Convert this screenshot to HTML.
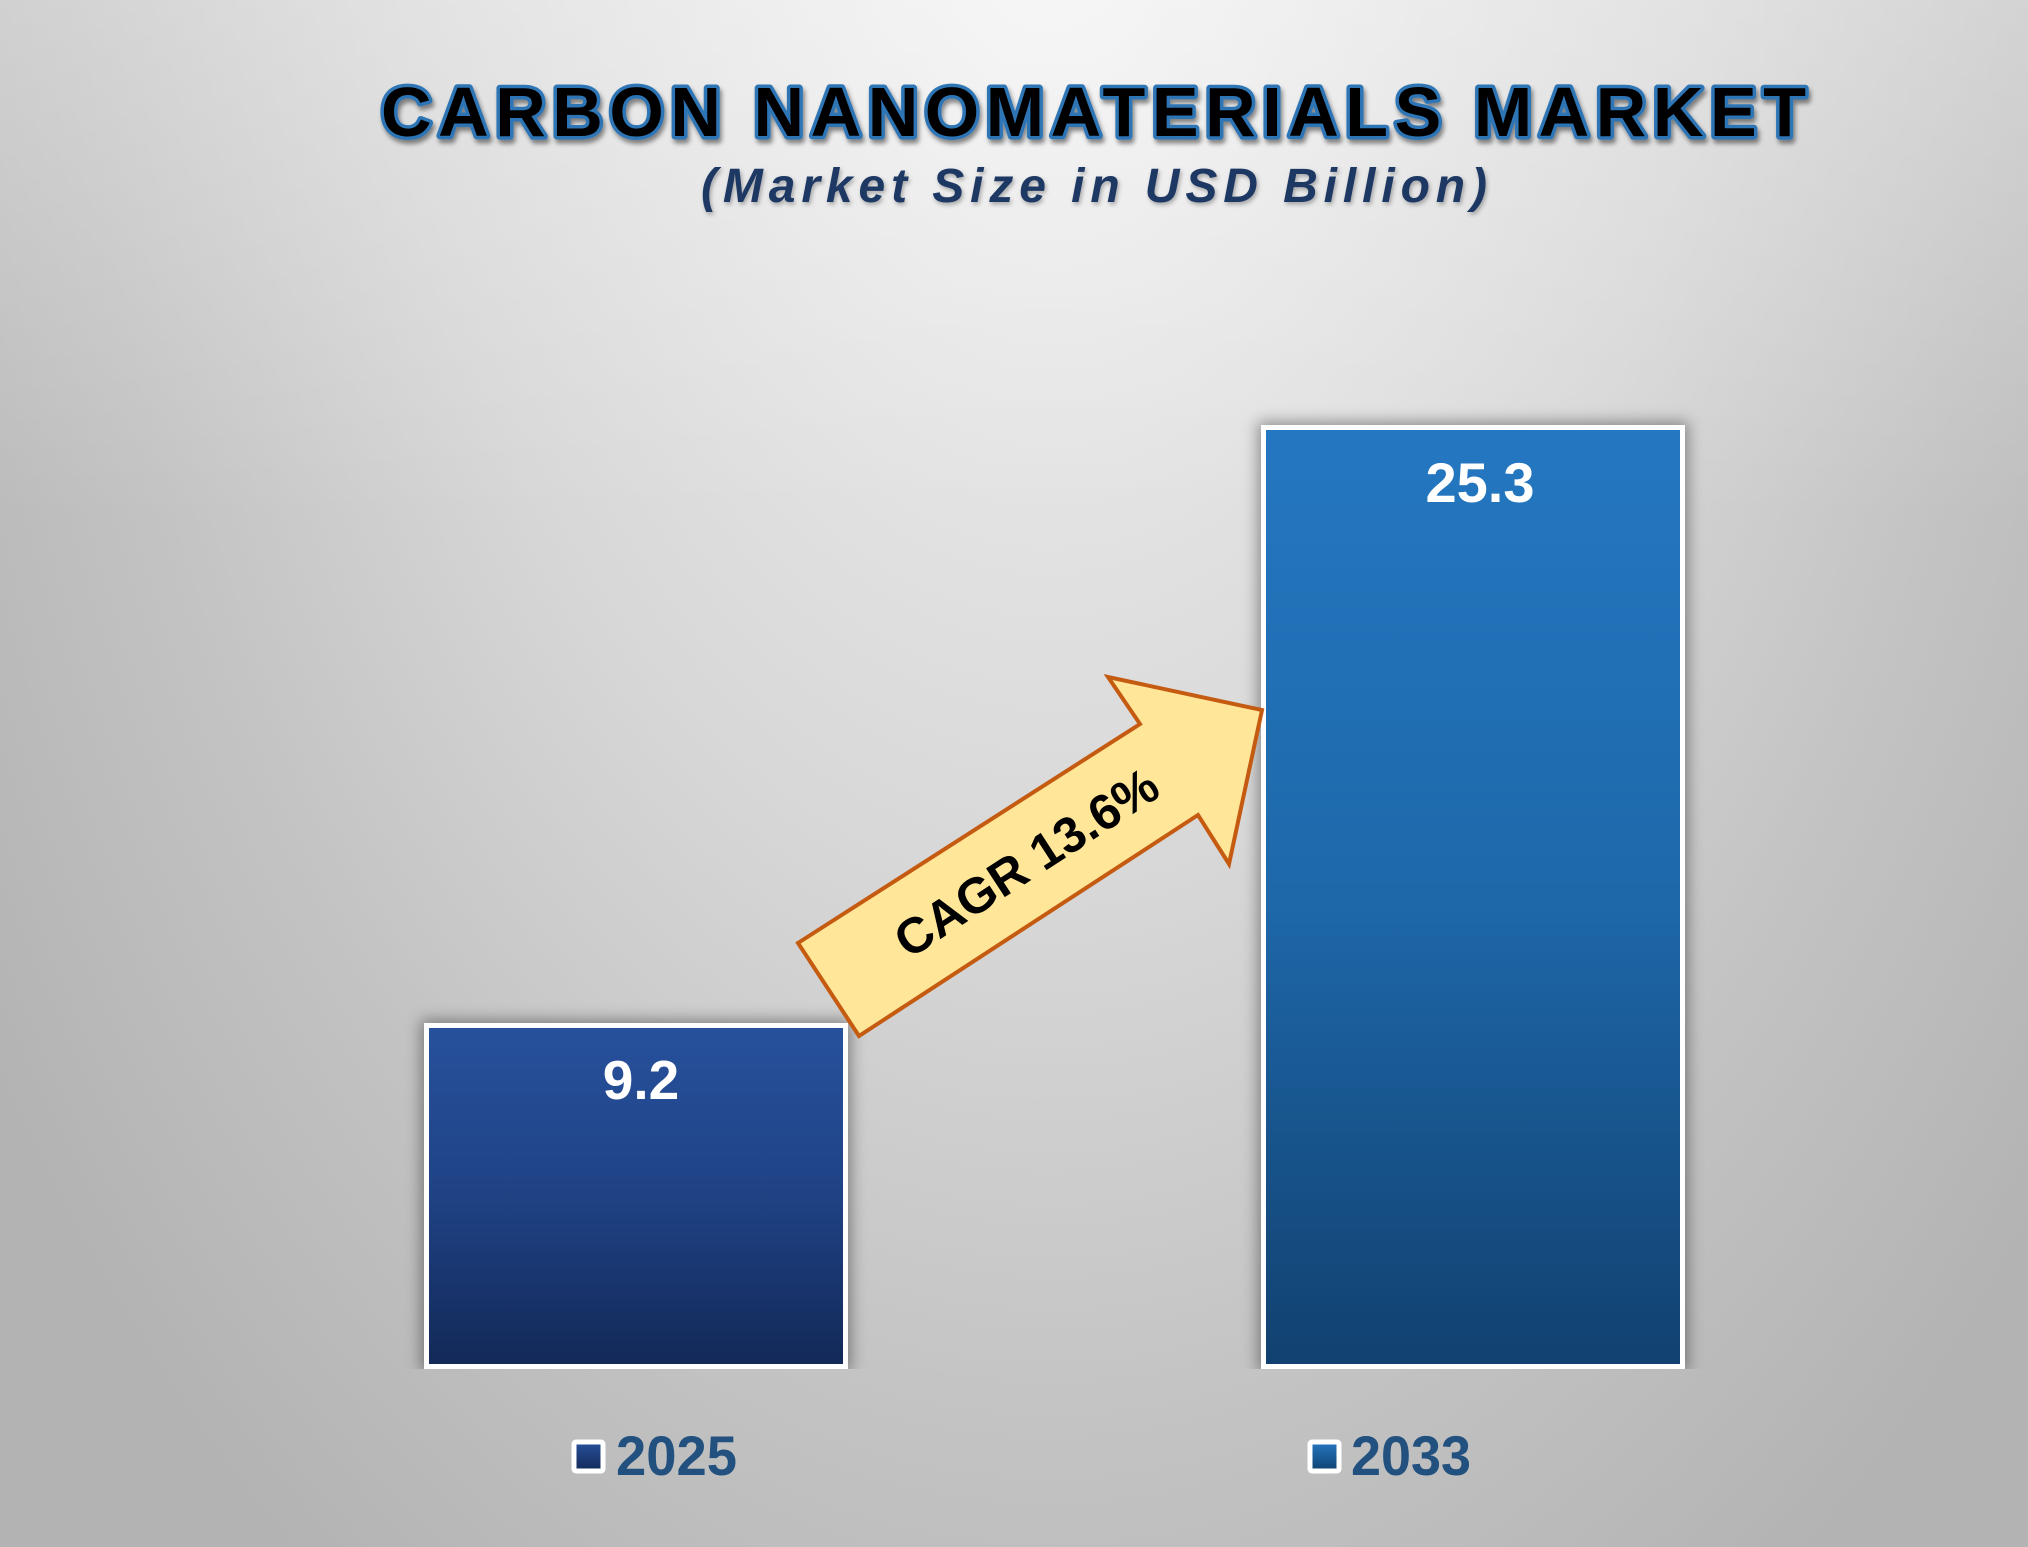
<!DOCTYPE html>
<html>
<head>
<meta charset="utf-8">
<style>
  html, body { margin:0; padding:0; }
  body {
    width:2028px; height:1547px; position:relative; overflow:hidden;
    background:
      linear-gradient(to bottom, rgba(255,255,255,0.28) 0px, rgba(255,255,255,0) 520px),
      radial-gradient(ellipse 1300px 2100px at 1050px -150px, #f6f6f6 0%, #d7d7d7 50%, #c3c3c3 75%, #b3b3b3 100%);
    font-family: "Liberation Sans", Arial, sans-serif;
  }
  .clip { position:absolute; left:0; top:0; width:2028px; height:1369px; overflow:hidden; }
  .bar { position:absolute; box-sizing:border-box; border:5px solid #ffffff; box-shadow: 0 0 14px 3px rgba(0,0,0,0.38); }
  .b1 { left:424px; top:1023px; width:424px; height:346px;
        background: linear-gradient(to bottom, #27519c 0%, #1f4284 50%, #132958 100%); }
  .b2 { left:1261px; top:425px; width:424px; height:944px;
        background: linear-gradient(to bottom, #2477c1 0%, #1e68aa 50%, #114170 100%); }
  svg { position:absolute; left:0; top:0; }
</style>
</head>
<body>
<div class="clip">
  <div class="bar b1"></div>
  <div class="bar b2"></div>
</div>
<svg width="2028" height="1547" viewBox="0 0 2028 1547" xmlns="http://www.w3.org/2000/svg">
  <defs>
    <filter id="tsh" x="-5%" y="-30%" width="110%" height="170%">
      <feDropShadow dx="2" dy="4" stdDeviation="2.5" flood-color="#000" flood-opacity="0.45"/>
    </filter>
    <filter id="ssh" x="-5%" y="-30%" width="110%" height="170%">
      <feDropShadow dx="1.5" dy="2.5" stdDeviation="2" flood-color="#000" flood-opacity="0.3"/>
    </filter>
    <linearGradient id="lg1" x1="0" y1="0" x2="0" y2="1">
      <stop offset="0" stop-color="#27519c"/><stop offset="1" stop-color="#132958"/>
    </linearGradient>
    <linearGradient id="lg2" x1="0" y1="0" x2="0" y2="1">
      <stop offset="0" stop-color="#2477c1"/><stop offset="1" stop-color="#114170"/>
    </linearGradient>
  </defs>

  <!-- Title -->
  <text x="381" y="136" font-family="Liberation Sans, Arial, sans-serif" font-weight="bold" font-size="70"
        fill="#000" stroke="#2e75b6" stroke-width="7" stroke-linejoin="round" paint-order="stroke fill"
        textLength="1425" lengthAdjust="spacing" filter="url(#tsh)">CARBON NANOMATERIALS MARKET</text>

  <!-- Subtitle -->
  <text x="701" y="202" font-family="Liberation Sans, Arial, sans-serif" font-weight="bold" font-style="italic"
        font-size="48" fill="#1f3864" textLength="786" lengthAdjust="spacing" filter="url(#ssh)">(Market Size in USD Billion)</text>

  <!-- Bar labels -->
  <text x="641" y="1099" text-anchor="middle" font-family="Liberation Sans, Arial, sans-serif" font-weight="bold" font-size="55" fill="#ffffff">9.2</text>
  <text x="1480" y="502" text-anchor="middle" font-family="Liberation Sans, Arial, sans-serif" font-weight="bold" font-size="56" fill="#ffffff">25.3</text>

  <!-- CAGR arrow -->
  <polygon points="798,943 1140,724 1108,677 1262,710 1229,864 1198,815 859,1036"
           fill="#ffe699" stroke="#c55a11" stroke-width="4" stroke-linejoin="miter"/>
  <g transform="translate(1026,862) rotate(-33)">
    <text x="0" y="18" text-anchor="middle" font-family="Liberation Sans, Arial, sans-serif" font-weight="bold" font-size="50" fill="#000">CAGR 13.6%</text>
  </g>

  <!-- Legend -->
  <rect x="574" y="1442" width="29" height="29" rx="2" fill="url(#lg1)" stroke="#ffffff" stroke-width="5"/>
  <text x="616" y="1475" font-family="Liberation Sans, Arial, sans-serif" font-weight="bold" font-size="56"
        fill="#22507f" textLength="121" lengthAdjust="spacingAndGlyphs">2025</text>
  <rect x="1310" y="1442" width="29" height="29" rx="2" fill="url(#lg2)" stroke="#ffffff" stroke-width="5"/>
  <text x="1351" y="1475" font-family="Liberation Sans, Arial, sans-serif" font-weight="bold" font-size="56"
        fill="#22507f" textLength="120" lengthAdjust="spacingAndGlyphs">2033</text>
</svg>
</body>
</html>
